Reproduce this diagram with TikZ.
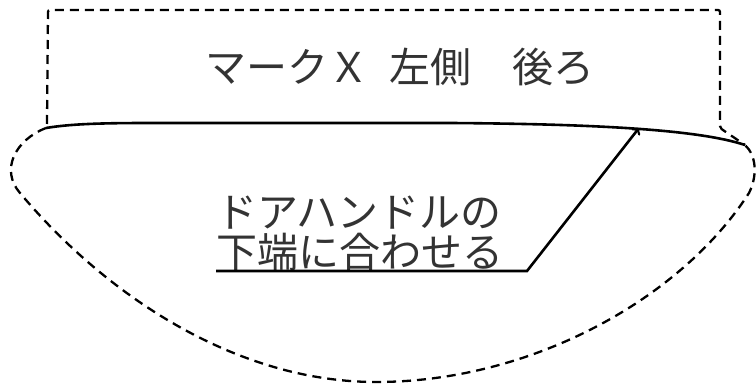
\documentclass[tikz,border=0pt]{standalone}
\usepackage{fontspec}
\newfontfamily\jpfont{Noto Sans CJK JP}
\usepackage{tikz}
\usetikzlibrary{arrows}

\begin{document}
\begin{tikzpicture}[x=1pt, y=-1pt,
   cutline/.style={black, line width=2.3pt, dash pattern=on 9pt off 6pt},
   edgeline/.style={black, line width=2.6pt},
   jptext/.style={inner sep=0pt, text=black!80, font=\jpfont\fontsize{41}{40}\selectfont}]
   \useasboundingbox (0,0) rectangle (756,387);
   % mark area
   \draw[cutline, rounded corners=2pt] (47,124) -- (48,10) -- (720,10) -- (720,128) -- (745,145);
   % lower flap
   \draw[cutline] (46,128) .. controls (15,140) and (0,170) .. (20,193)
      .. controls (110,300) and (240,382) .. (376,382)
      .. controls (530,382) and (680,300) .. (749,193)
      .. controls (758,175) and (756,155) .. (745,145);
   % door edge
   \draw[edgeline] (46,128) .. controls (70,124) and (100,123) .. (150,123) -- (450,123)
      .. controls (600,124) and (700,130) .. (745,145);
   \node[jptext] (mark) at (400,67) {マークＸ\hspace{0.5em}左側　後ろ};
   \node[jptext, anchor=south west, align=left] (handle) at (216,271) {ドアハンドルの\\下端に合わせる};
   \coordinate (bend) at (527,271);
   \coordinate (tip) at (639,128);
   \draw[edgeline, ->] (handle.south west) -- (bend) -- (tip);
\end{tikzpicture}
\end{document}
